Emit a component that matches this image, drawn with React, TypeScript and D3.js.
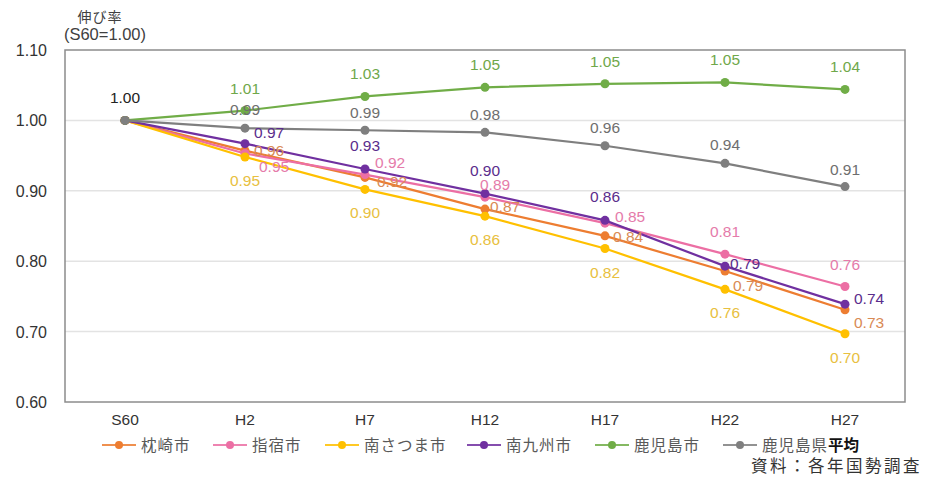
import React from "react";
import * as d3 from "d3";

const categories = ["S60", "H2", "H7", "H12", "H17", "H22", "H27"];
const seriesNames = ["枕崎市", "指宿市", "南さつま市", "南九州市", "鹿児島市", "鹿児島県平均"];
const makurazaki = [1.0, 0.957, 0.919, 0.874, 0.836, 0.786, 0.731];
const ibusuki = [1.0, 0.953, 0.923, 0.891, 0.854, 0.81, 0.764];
const minamisatsuma = [1.0, 0.948, 0.902, 0.864, 0.818, 0.76, 0.697];
const minamikyushu = [1.0, 0.967, 0.931, 0.896, 0.858, 0.793, 0.739];
const kagoshimaCity = [1.0, 1.014, 1.034, 1.047, 1.052, 1.054, 1.044];
const prefAverage = [1.0, 0.989, 0.986, 0.983, 0.964, 0.939, 0.906];
const yTicks = [0.6, 0.7, 0.8, 0.9, 1.0, 1.1];

const colors = ["#ED7D31", "#EC6FA4", "#FFC000", "#7030A0", "#70AD47", "#7F7F7F"];
const labelColors = ["#D98A55", "#E57BAA", "#E8C040", "#5A2D8C", "#6FA84A", "#6E6E6E"];
// label offsets (dx, dy of baseline) per point, styling only
const labelOffsets: (number[] | null)[][] = [
  [null, [9, 5], [12, 10], [5, 3], [8, 6], [8, 20], [9, 18]],
  [null, [14, 19], [10, -7], [-5, -7], [10, -1], [0, -17], [0, -17]],
  [null, [0, 29], [0, 29], [0, 29], [0, 29], [0, 29], [0, 29]],
  [null, [9, -6], [0, -18], [0, -18], [0, -18], [5, 3], [9, 0]],
  [null, [0, -17], [0, -17], [0, -17], [0, -17], [0, -17], [0, -17]],
  [null, [0, -13], [0, -12], [0, -12], [0, -13], [0, -13], [0, -12]],
];
const allSeries = [makurazaki, ibusuki, minamisatsuma, minamikyushu, kagoshimaCity, prefAverage];

const W = 925;
const H = 484;
const plot = { left: 65, right: 905, top: 50, bottom: 402 };
const numFont = "'Liberation Sans', Arial, sans-serif";
const jpFont = "'Noto Sans CJK JP', sans-serif";

export default function App() {
  const x = d3.scaleBand<string>().domain(categories).range([plot.left, plot.right]);
  const xc = (c: string) => (x(c) as number) + x.bandwidth() / 2;
  const y = d3.scaleLinear().domain([0.6, 1.1]).range([plot.bottom, plot.top]);
  const line = d3
    .line<number>()
    .x((_, i) => xc(categories[i]))
    .y((d) => y(d));

  const legendX = [102, 213, 325, 467, 595, 723];

  return (
    <svg
      width={W}
      height={H}
      style={{ position: "absolute", left: 0, top: 0, background: "#fff" }}
    >
      <text x={100} y={22} textAnchor="middle" fontFamily={jpFont} fontSize={14} letterSpacing={1} fill="#404040">
        伸び率
      </text>
      <text x={105} y={40} textAnchor="middle" fontFamily={numFont} fontSize={16.5} fill="#404040">
        (S60=1.00)
      </text>
      {yTicks.map((t) => (
        <g key={t}>
          {t > 0.6 && t < 1.1 && (
            <line x1={plot.left} x2={plot.right} y1={y(t)} y2={y(t)} stroke="#E3E3E3" strokeWidth={1.5} />
          )}
          <text
            x={47}
            y={y(t) + 6}
            textAnchor="end"
            fontFamily={numFont}
            fontSize={16}
            fill="#333"
          >
            {t.toFixed(2)}
          </text>
        </g>
      ))}
      <rect
        x={plot.left}
        y={plot.top}
        width={plot.right - plot.left}
        height={plot.bottom - plot.top}
        fill="none"
        stroke="#8C8C8C"
        strokeWidth={1.5}
      />
      {categories.map((c) => (
        <text
          key={c}
          x={xc(c)}
          y={425}
          textAnchor="middle"
          fontFamily={numFont}
          fontSize={15.5}
          fill="#333"
        >
          {c}
        </text>
      ))}
      {allSeries.map((s, si) => (
        <g key={si}>
          <path d={line(s) || ""} fill="none" stroke={colors[si]} strokeWidth={2.2} />
          {s.map((v, i) => (
            <circle key={i} cx={xc(categories[i])} cy={y(v)} r={4.5} fill={colors[si]} />
          ))}
        </g>
      ))}
      {allSeries.map((s, si) => (
        <g key={"l" + si}>
          {s.map((v, i) => {
            const o = labelOffsets[si][i];
            if (!o) return null;
            return (
              <text
                key={i}
                x={xc(categories[i]) + o[0]}
                y={y(v) + o[1]}
                textAnchor={o[0] === 0 ? "middle" : "start"}
                fontFamily={numFont}
                fontSize={15.5}
                fill={labelColors[si]}
              >
                {v.toFixed(2)}
              </text>
            );
          })}
        </g>
      ))}
      <text
        x={xc(categories[0])}
        y={y(1.0) - 17}
        textAnchor="middle"
        fontFamily={numFont}
        fontSize={15.5}
        fill="#222"
      >
        {(1.0).toFixed(2)}
      </text>
      {seriesNames.map((n, i) => {
        const lx = legendX[i];
        const isLast = i === seriesNames.length - 1;
        return (
          <g key={n}>
            <line x1={lx} x2={lx + 34} y1={445} y2={445} stroke={colors[i]} strokeWidth={2.2} opacity={0.85} />
            <circle cx={lx + 17} cy={445} r={4} fill={colors[i]} />
            <text
              x={lx + 39}
              y={451}
              fontFamily={jpFont}
              fontSize={15.5}
              letterSpacing={1}
              fill="#595959"
            >
              {isLast ? (
                <>
                  {n.slice(0, 4)}
                  <tspan fill="#111" fontWeight="bold" letterSpacing={0}>
                    {n.slice(4)}
                  </tspan>
                </>
              ) : (
                n
              )}
            </text>
          </g>
        );
      })}
      <text
        x={922}
        y={472}
        textAnchor="end"
        fontFamily={jpFont}
        fontSize={16.5}
        letterSpacing={2.5}
        fill="#333"
      >
        資料：各年国勢調査
      </text>
    </svg>
  );
}
